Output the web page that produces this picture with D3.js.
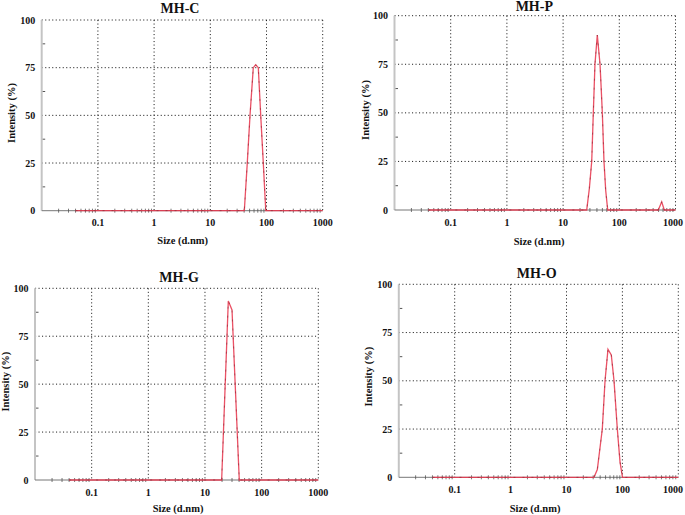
<!DOCTYPE html>
<html>
<head>
<meta charset="utf-8">
<script src="https://cdn.jsdelivr.net/npm/d3@7/dist/d3.min.js"></script>
<style>
  html, body { margin: 0; padding: 0; background: #fff; }
  svg { display: block; }
  text { font-family: "Liberation Serif", "Times New Roman", serif; font-weight: bold; fill: #111; }
</style>
</head>
<body>
<svg id="chart" width="685" height="515"></svg>
<script>
// ---------- data ----------
const titles = ["MH-C", "MH-P", "MH-G", "MH-O"];
const sizeTicks = [0.1, 1, 10, 100, 1000];
const sizeTickLabels = ["0.1", "1", "10", "100", "1000"];
const intensityTicks = [0, 25, 50, 75, 100];
const intensityMinorTicks = [12.5, 37.5, 62.5, 87.5];
const xAxisTitle = "Size (d.nm)";
const yAxisTitle = "Intensity (%)";

const mhcSize = [0.04, 40.3, 45.5, 50.9, 58.2, 64.3, 71.5, 78.9, 87.7, 97, 1000];
const mhcIntensity = [0, 0, 25, 50, 75, 76.5, 75, 50, 25, 0, 0];

const mhpSize = [0.04, 26.3, 29.3, 32.3, 34.5, 36.9, 40.6, 45.4, 47.2, 49.9, 53.4, 57.3, 62.2, 494, 568, 632, 1000];
const mhpIntensity = [0, 0, 11, 25, 50, 75, 90, 75, 65, 50, 25, 10, 0, 0, 4.2, 0, 0];

const mhgSize = [0.04, 19.7, 25.8, 30.0, 40.3, 1000];
const mhgIntensity = [0, 0, 93.4, 88.7, 0, 0];

const mhoSize = [0.04, 31, 35.6, 43.7, 48.9, 55.2, 63.3, 70.8, 81.1, 90.6, 100.4, 1000];
const mhoIntensity = [0, 0, 4, 25, 50, 66.3, 63.4, 50, 25, 8, 0, 0];

const seriesSizes = [mhcSize, mhpSize, mhgSize, mhoSize];
const seriesIntensities = [mhcIntensity, mhpIntensity, mhgIntensity, mhoIntensity];

// ---------- layout (positions only) ----------
const W = 685;
const layouts = [
  { l: 41.7, r: 322.7, t: 20,    b: 210.7, tx: 180,   ty: 12.7,  xt: 182.7, xty: 244,   yt: 11,    yty: 113 },
  { l: 394.5, r: 675.5, t: 15.7, b: 210,   tx: 534.3, ty: 10.5,  xt: 539,   xty: 244.5, yt: 365,   yty: 110 },
  { l: 35,   r: 318.3, t: 288.3, b: 480,   tx: 179,   ty: 281.7, xt: 178,   xty: 512,   yt: 5.5,   yty: 381.7 },
  { l: 398.8, r: 678.3, t: 284.3, b: 477.3, tx: 536.7, ty: 277.7, xt: 535,  xty: 512,   yt: 368.3, yty: 376.7 }
];

const svg = d3.select("#chart");

// minor x ticks 2..9 in each decade
const minorX = [];
[0.01, 0.1, 1, 10, 100].forEach(d => { for (let k = 2; k <= 9; k++) minorX.push(d * k); });

layouts.forEach((L, i) => {
  const x = d3.scaleLog().domain([0.01, 1000]).range([L.l, L.r]);
  const y = d3.scaleLinear().domain([0, 100]).range([L.b, L.t]);
  const g = svg.append("g");

  // grid (dotted)
  g.selectAll(".vg").data(sizeTicks).enter().append("line")
    .attr("x1", d => x(d)).attr("x2", d => x(d))
    .attr("y1", y(100)).attr("y2", y(0))
    .attr("stroke", "#222").attr("stroke-width", 1).attr("stroke-dasharray", "1.1,2.4");
  g.selectAll(".hg").data(intensityTicks.filter(d => d > 0)).enter().append("line")
    .attr("x1", x(0.01)).attr("x2", x(1000))
    .attr("y1", d => y(d)).attr("y2", d => y(d))
    .attr("stroke", "#222").attr("stroke-width", 1).attr("stroke-dasharray", "1.1,2.4");

  // left axis line (light grey)
  g.append("line").attr("x1", L.l).attr("x2", L.l).attr("y1", y(100)).attr("y2", y(0))
    .attr("stroke", "#c4c4c4").attr("stroke-width", 2);
  // y minor ticks
  g.selectAll(".ym").data(intensityMinorTicks).enter().append("line")
    .attr("x1", L.l + 1).attr("x2", L.l + 3.5)
    .attr("y1", d => y(d)).attr("y2", d => y(d))
    .attr("stroke", "#555").attr("stroke-width", 1);

  // bottom axis
  g.append("line").attr("x1", L.l).attr("x2", L.r).attr("y1", y(0)).attr("y2", y(0))
    .attr("stroke", "#777").attr("stroke-width", 1);
  g.selectAll(".xm").data(minorX).enter().append("line")
    .attr("x1", d => x(d)).attr("x2", d => x(d))
    .attr("y1", y(0) - 2).attr("y2", y(0) + 2)
    .attr("stroke", "#555").attr("stroke-width", 0.8);

  // y tick labels
  g.selectAll(".yl").data(intensityTicks).enter().append("text")
    .attr("x", L.l - 6.5).attr("y", d => y(d)).attr("dy", "0.36em")
    .attr("text-anchor", "end").attr("font-size", 10)
    .text(d => d);
  // x tick labels (kept inside the window)
  g.selectAll(".xl").data(sizeTicks).enter().append("text")
    .attr("x", d => Math.min(x(d), W - 12)).attr("y", L.b + 15.5)
    .attr("text-anchor", "middle").attr("font-size", 10)
    .text((d, k) => sizeTickLabels[k]);

  // titles
  g.append("text").attr("x", L.tx).attr("y", L.ty).attr("text-anchor", "middle")
    .attr("font-size", 14).text(titles[i]);
  g.append("text").attr("x", L.xt).attr("y", L.xty).attr("text-anchor", "middle")
    .attr("font-size", 10.5).text(xAxisTitle);
  g.append("text").attr("transform", `translate(${L.yt},${L.yty}) rotate(-90)`)
    .attr("text-anchor", "middle").attr("dy", "0.35em")
    .attr("font-size", 10.5).text(yAxisTitle);

  // data
  const pts = seriesSizes[i].map((s, k) => [s, seriesIntensities[i][k]]);
  const line = d3.line().x(d => x(d[0])).y(d => y(d[1]));
  g.append("path").datum(pts).attr("d", line)
    .attr("fill", "none").attr("stroke", "#e8334a").attr("stroke-width", 1.3)
    .attr("stroke-opacity", 0.85);
  g.append("path").datum(pts).attr("d", line)
    .attr("fill", "none").attr("stroke", "#5a1a22").attr("stroke-width", 0.6)
    .attr("stroke-dasharray", "2,7").attr("stroke-opacity", 0.7);
});
</script>
</body>
</html>
